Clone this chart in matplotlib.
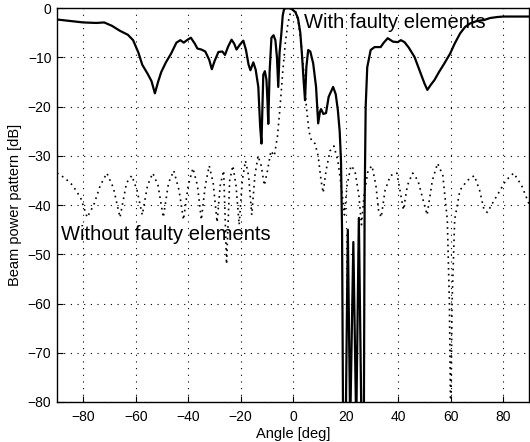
import matplotlib
matplotlib.use("Agg")
import matplotlib.pyplot as plt

# beam power pattern: angle [deg], level [dB]
with_ang = [-90, -85, -80, -75, -72, -69, -66, -63, -61, -59, -57.5, -55.5, -54,
            -52.7, -51.5, -50.3, -48.5, -46.5, -44.5, -43, -41.7, -40.5, -39,
            -37.5, -36.5, -35, -33.5, -32, -31, -30, -28.5, -27, -26, -24.8,
            -23.5, -22.5, -21.6, -20.3, -19, -18, -17, -16.3, -15.2, -14.3,
            -13.3, -12.6, -12.1, -11.7, -11.4, -10.8, -10.2, -9.8, -9.5, -9.0,
            -8.3, -7.5, -6.8, -6.2, -5.7, -5.2, -4.5, -4.0, -3.5, -2.7, -1.5,
            -0.5, 0.8, 1.8, 2.7, 3.4, 4.0, 4.5, 5.0, 5.7, 6.5, 7.6, 8.7, 9.5,
            10.2, 10.6, 11.5, 12.5, 13.5, 15.2, 16.2, 17.0, 17.7, 18.2, 18.6,
            19.0, 20.0, 20.8, 21.7, 22.9, 24.0, 25.0, 26.0, 26.9, 27.2, 27.6,
            28.2, 29.5, 31, 33.3, 34.5, 36, 38, 39.8, 41, 42.4, 44, 46.2, 48.5,
            50, 51.1, 52.5, 53.8, 55.5, 57.6, 59.8, 61.5, 63.6, 65.5, 67.4, 70,
            72.7, 75, 77.7, 80, 85, 90]
with_db = [-2.3, -2.6, -2.9, -3.0, -2.9, -3.6, -4.6, -5.4, -6.5, -9.0, -11.5,
           -13.3, -14.8, -17.3, -15.0, -13.0, -11.0, -9.2, -7.0, -6.5, -7.0,
           -6.5, -6.0, -7.2, -8.2, -8.4, -8.8, -10.5, -12.4, -10.8, -8.9, -8.8,
           -9.5, -7.8, -6.4, -7.2, -8.4, -7.4, -6.6, -8.5, -11.5, -12.6, -11.0,
           -12.5, -16.0, -24.0, -27.5, -19.0, -13.5, -12.8, -14.5, -19.0, -23.5,
           -13.0, -6.0, -5.5, -6.5, -10.0, -16.0, -9.0, -5.0, -1.5, -0.2, 0.0,
           0.0, -0.2, -0.8, -2.0, -5.0, -10.0, -15.0, -18.7, -12.0, -8.5, -8.8,
           -11.2, -16.0, -23.4, -21.0, -20.5, -21.5, -21.3, -18.0, -16.0, -17.5,
           -20.7, -25.0, -31.0, -45.0, -85.0, -85.0, -45.0, -85.0, -47.5, -85.0,
           -42.6, -85.0, -85.0, -40.0, -20.0, -12.0, -8.5, -7.9, -7.9, -7.0,
           -6.1, -6.8, -6.9, -6.5, -6.9, -8.0, -9.9, -13.2, -15.3, -16.6, -15.5,
           -14.6, -13.0, -11.2, -9.2, -7.2, -5.1, -3.8, -3.1, -2.6, -2.4, -2.0,
           -1.8, -1.7, -1.7, -1.7]

without_ang = [-90, -87, -84, -81, -78.5, -76, -73.5, -71, -68.5, -66, -63.5,
               -61.5, -59.5, -57.5, -55.5, -53.5, -51.5, -49.5, -47.5, -45.5,
               -43.5, -41.8, -40, -38.2, -36.5, -35, -33.5, -32, -30.5, -29,
               -27.8, -26.5, -25.4, -24.2, -23, -21.8, -20.6, -19.4, -18.2, -17,
               -15.8, -14.6, -13.4, -12.2, -11, -9.8, -8.5, -7.2, -6, -5, -4,
               -3, -2, -1, 0, 1, 2, 3, 4, 5, 6, 7, 8.3, 9.5, 10.6, 11.4, 12.5,
               14, 15.5, 17, 18.5, 19.5, 20.5, 22, 23.5, 25, 26, 27, 28.5, 30,
               31.5, 32.5, 33.5, 35, 37, 39.5, 41, 42, 43.5, 45.5, 47.5, 49.5,
               51, 53, 55, 57, 58.7, 59.5, 60, 60.5, 61.5, 63.5, 66.3, 69, 71,
               72.7, 74, 75.5, 78.8, 81, 84, 87, 90]
without_db = [-33.5, -34.5, -36, -38.5, -42.5, -40, -36, -33.5, -36.5, -42.5,
              -35.5, -34, -37, -42, -36, -33.5, -36, -42.5, -35.5, -33, -37,
              -43, -36, -32.5, -36, -43, -36, -32, -35.5, -43.5, -36, -33, -52,
              -35, -32, -36, -44, -35, -31, -34, -42, -34, -30, -32, -36, -33,
              -29, -30, -26, -20, -13, -7, -3, -0.8, 0, -0.8, -3, -7, -13, -20,
              -25, -27, -27.5, -30, -35, -37.5, -33, -29, -28, -31, -37, -42,
              -36, -32, -33, -38, -44, -38, -33, -32, -36, -41, -42.5, -37, -34,
              -33.5, -38, -41, -36, -33.5, -35, -39, -42, -35, -31.5, -34, -43,
              -60, -85, -60, -43, -37, -35, -34, -37, -41, -41.5, -40, -37, -35,
              -33.5, -36, -40]

xticks = [-80, -60, -40, -20, 0, 20, 40, 60, 80]
yticks = [-80, -70, -60, -50, -40, -30, -20, -10, 0]

plt.rcParams["font.family"] = ["Liberation Sans", "DejaVu Sans"]

fig = plt.figure(figsize=(5.3, 4.42), dpi=100)
ax = fig.add_axes([0.1075, 0.0905, 0.8915, 0.891])

ax.plot(without_ang, without_db, color="black", lw=1.2, ls=(0, (1, 2.5)))
ax.plot(with_ang, with_db, color="black", lw=1.6)

ax.set_xlim(-90, 90)
ax.set_ylim(-80, 0)
ax.set_xticks(xticks)
ax.set_yticks(yticks)
ax.tick_params(direction="in", length=4, width=0.8, labelsize=10, pad=4)
ax.tick_params(axis="x", pad=6)
ax.grid(True, color="black", lw=0.8, ls=(0, (1, 5)))
for sp in ax.spines.values():
    sp.set_linewidth(1.0)

ax.text(4.2, -4.1, "With faulty elements", fontsize=14.5, va="baseline")
ax.text(-88.5, -47.1, "Without faulty elements", fontsize=14.5, va="baseline")

ax.set_xlabel("Angle [deg]", fontsize=10.5, labelpad=2)
ax.set_ylabel("Beam power pattern [dB]", fontsize=10.5, labelpad=4)

fig.savefig("out.png", dpi=100)
